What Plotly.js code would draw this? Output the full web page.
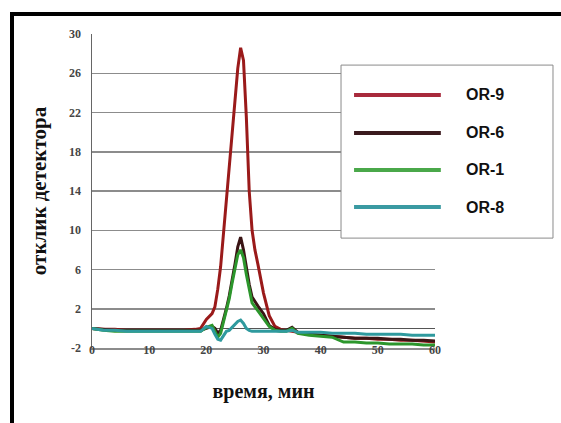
<!DOCTYPE html>
<html>
<head>
<meta charset="utf-8">
<script src="https://cdn.plot.ly/plotly-3.0.1.min.js"></script>
<style>
  html, body { margin: 0; padding: 0; background: #fff; }
  #chart { width: 561px; height: 423px; position: absolute; left: 0; top: 0; }
  #frame { position: absolute; left: 10px; top: 12px; width: 700px; height: 600px;
           border-left: 4px solid #000; border-top: 4px solid #000; pointer-events: none; }
</style>
</head>
<body>
<div id="chart"></div>
<div id="frame"></div>
<script>
// time, min
const time = [0, 2, 4, 6, 8, 10, 12, 14, 16, 18, 19, 20, 21, 21.5, 22, 22.5, 23, 23.5, 24, 24.5, 25, 25.5, 26, 26.5, 27, 27.5, 28, 28.5, 29, 30, 31, 32, 33, 34, 35, 36, 38, 40, 42, 44, 46, 48, 50, 52, 54, 56, 58, 60];
const or9  = [0, -0.1, -0.1, -0.2, -0.2, -0.2, -0.2, -0.2, -0.2, -0.1, 0, 0.9, 1.5, 2.2, 4.0, 6.3, 9.6, 12.8, 16.2, 20.0, 23.5, 26.5, 28.6, 27.3, 21.5, 14.0, 10.0, 8.0, 6.6, 3.6, 1.3, 0.2, -0.1, -0.2, -0.3, -0.4, -0.6, -0.7, -0.8, -0.9, -1.0, -1.0, -1.1, -1.1, -1.2, -1.2, -1.3, -1.4];
const or6  = [0, -0.1, -0.2, -0.2, -0.2, -0.2, -0.2, -0.2, -0.2, -0.2, -0.2, 0.0, 0.2, 0.0, -0.5, -0.2, 0.8, 2.0, 3.3, 4.8, 6.5, 8.3, 9.3, 8.0, 6.2, 4.5, 3.2, 2.7, 2.3, 1.5, 0.3, -0.1, -0.2, -0.2, 0.1, -0.4, -0.6, -0.7, -0.8, -0.9, -1.0, -1.0, -1.0, -1.1, -1.1, -1.2, -1.2, -1.3];
const or1  = [0, -0.2, -0.3, -0.3, -0.3, -0.3, -0.3, -0.3, -0.3, -0.3, -0.3, 0.1, 0.3, -0.3, -0.9, -0.5, 0.6, 1.8, 3.0, 4.6, 6.2, 7.5, 8.0, 7.2, 5.5, 3.9, 2.6, 2.2, 1.8, 1.0, 0.2, -0.2, -0.3, -0.3, 0.0, -0.5, -0.7, -0.8, -0.9, -1.4, -1.4, -1.5, -1.5, -1.6, -1.6, -1.6, -1.7, -1.7];
const or8  = [0, -0.2, -0.2, -0.3, -0.3, -0.3, -0.3, -0.3, -0.3, -0.3, -0.3, 0.2, 0.0, -0.6, -1.1, -1.2, -0.7, -0.3, -0.2, 0.1, 0.4, 0.7, 0.85, 0.5, 0.0, -0.2, -0.3, -0.3, -0.3, -0.3, -0.3, -0.3, -0.3, -0.3, -0.2, -0.4, -0.4, -0.4, -0.5, -0.5, -0.5, -0.6, -0.6, -0.6, -0.6, -0.7, -0.7, -0.7];

const names  = ['OR-9', 'OR-6', 'OR-1', 'OR-8'];
const series = [or9, or6, or1, or8];
const colors = ['#9a1a1a', '#3a1414', '#2c962c', '#2f9a9e'];
const legendColors = ['#a82a3c', '#3a1a1e', '#4aa84a', '#3a9aa2'];

const yTicks = [-2, 2, 6, 10, 14, 18, 22, 26, 30];
const xTicks = [0, 10, 20, 30, 40, 50, 60];

const traces = series.map((v, i) => ({
  x: time, y: v, name: names[i], type: 'scatter', mode: 'lines',
  line: { color: colors[i], width: 3 }, showlegend: false
}));

// custom legend box (paper coords)
const shapes = [{
  type: 'rect', xref: 'paper', yref: 'paper',
  x0: 0.726, x1: 1.344, y0: 0.350, y1: 0.901,
  line: { color: '#8a8a8a', width: 1 }, fillcolor: '#ffffff', layer: 'above'
}];
const annotations = [];
const rowY = [0.806, 0.685, 0.567, 0.449];
names.forEach((n, i) => {
  shapes.push({
    type: 'line', xref: 'paper', yref: 'paper',
    x0: 0.764, x1: 1.017, y0: rowY[i], y1: rowY[i],
    line: { color: legendColors[i], width: 4 }, layer: 'above'
  });
  annotations.push({
    xref: 'paper', yref: 'paper', x: 1.085, y: rowY[i],
    xanchor: 'left', yanchor: 'middle', showarrow: false, text: n,
    font: { family: 'Liberation Sans, Arial, sans-serif', size: 16, color: '#111', weight: 'bold' }
  });
});

const serif = 'Liberation Serif, Times New Roman, serif';
const layout = {
  width: 561, height: 423,
  margin: { l: 92, r: 126, t: 34, b: 75 },
  paper_bgcolor: '#fff', plot_bgcolor: '#fff',
  showlegend: false,
  xaxis: {
    range: [0, 60], tickvals: xTicks, ticktext: xTicks.map(String),
    showgrid: false, zeroline: false, showline: true, linecolor: '#8c8c8c', linewidth: 1.5,
    ticks: '', ticklabelstandoff: -10,
    tickfont: { family: serif, size: 12, color: '#454545', weight: 'bold' },
    title: { text: 'время, мин', standoff: 28,
      font: { family: serif, size: 20, color: '#111', weight: 'bold' } }
  },
  yaxis: {
    range: [-2, 30], tickvals: yTicks, ticktext: yTicks.map(String),
    showgrid: true, gridcolor: '#8c8c8c', gridwidth: 1.5,
    zeroline: true, zerolinecolor: '#555', zerolinewidth: 1.5,
    showline: true, linecolor: '#666', linewidth: 1.5,
    ticks: '', ticklabelstandoff: 7,
    tickfont: { family: serif, size: 12, color: '#454545', weight: 'bold' },
    title: { text: 'отклик детектора\u00a0\u00a0\u00a0\u00a0', standoff: 16,
      font: { family: serif, size: 21, color: '#111', weight: 'bold' } }
  },
  shapes: shapes,
  annotations: annotations
};

Plotly.newPlot('chart', traces, layout, { displayModeBar: false, staticPlot: true });
</script>
</body>
</html>
